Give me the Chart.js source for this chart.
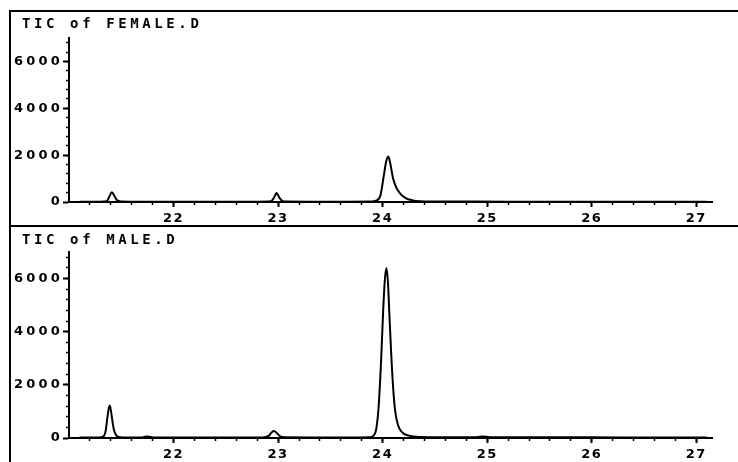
<!DOCTYPE html>
<html>
<head>
<meta charset="utf-8">
<script src="https://cdn.jsdelivr.net/npm/chart.js@4.4.0/dist/chart.umd.min.js"></script>
<style>
body { margin: 0; background: #fff; }
#wrap { position: relative; width: 738px; height: 462px; overflow: hidden; }
canvas { position: absolute; left: 0; }
#c1 { top: 0; }
#c2 { top: 226px; }
.frame { position: absolute; box-sizing: border-box; border: 0 solid #000; pointer-events: none; }
#f1 { left: 9px; top: 10px; width: 729px; height: 217px; border-left-width: 2px; border-top-width: 2px; border-bottom-width: 2px; }
#f2 { left: 9px; top: 225px; width: 729px; height: 240px; border-left-width: 2px; }
</style>
</head>
<body>
<div id="wrap">
  <canvas id="c1" width="738" height="226"></canvas>
  <canvas id="c2" width="738" height="236"></canvas>
  <div class="frame" id="f1"></div>
  <div class="frame" id="f2"></div>
</div>
<script>
// retention time (min) / total ion current
var femaleTime = [21.10, 21.30, 21.36, 21.385, 21.41, 21.435, 21.46, 21.50, 21.70, 22.00, 22.40, 22.80,
    22.93, 22.96, 22.985, 23.01, 23.04, 23.08, 23.30, 23.60, 23.90, 23.95, 23.98, 24.01, 24.035, 24.055,
    24.075, 24.10, 24.13, 24.17, 24.22, 24.28, 24.36, 24.50, 24.80, 25.20, 25.80, 26.40, 27.10];
var femaleTic = [15, 15, 30, 220, 420, 250, 70, 25, 15, 15, 15, 15,
    30, 180, 380, 200, 50, 20, 15, 15, 20, 80, 300, 1100, 1750, 1940,
    1600, 1000, 620, 350, 170, 80, 35, 25, 20, 15, 15, 15, 15];

var maleTime = [21.10, 21.25, 21.32, 21.35, 21.365, 21.38, 21.39, 21.40, 21.415, 21.43, 21.45, 21.48,
    21.55, 21.70, 21.74, 21.77, 21.80, 22.00, 22.40, 22.85, 22.91, 22.94, 22.96, 22.99, 23.02, 23.07,
    23.30, 23.70, 23.88, 23.93, 23.96, 23.985, 24.005, 24.02, 24.035, 24.05, 24.065, 24.08, 24.10,
    24.12, 24.15, 24.19, 24.25, 24.35, 24.60, 24.90, 24.96, 25.02, 25.30, 26.00, 26.60, 27.10];
var maleTic = [15, 15, 40, 250, 700, 1100, 1220, 1050, 650, 300, 110, 40,
    20, 20, 60, 50, 20, 20, 20, 20, 80, 220, 265, 180, 60, 25,
    20, 20, 30, 200, 1100, 2900, 4800, 5900, 6400, 5900, 4600, 3300, 1900,
    1000, 450, 200, 90, 40, 30, 30, 60, 30, 25, 25, 20, 20];

var xTickLabels = [22, 23, 24, 25, 26, 27];
var yTickLabels = [0, 2000, 4000, 6000];

var X_MIN = 21.0, X_MAX = 27.15, Y_MAX = 7000;

function points(times, values) {
    return times.map(function (t, i) { return { x: t, y: values[i] }; });
}

// Chart.js has no letter spacing option, so wrap the label drawing
function spaceLabels(scale, px) {
    if (scale._spaced) return;
    scale._spaced = true;
    var orig = scale.drawLabels;
    scale.drawLabels = function (area) {
        this.ctx.save();
        this.ctx.letterSpacing = px;
        orig.call(this, area);
        this.ctx.restore();
    };
}

var titlePlugin = {
    id: 'plotTitle',
    afterDraw: function (chart, args, opts) {
        var ctx = chart.ctx;
        ctx.save();
        ctx.font = 'bold 14px "DejaVu Sans Mono"';
        ctx.letterSpacing = '3.6px';
        ctx.fillStyle = '#000';
        ctx.textBaseline = 'middle';
        ctx.fillText(opts.text, 22, opts.y);
        ctx.restore();
    }
};

function plain(v) { return String(v); }

function makeChart(id, title, titleY, padTop, times, values) {
    return new Chart(document.getElementById(id), {
        type: 'line',
        data: {
            datasets: [{
                data: points(times, values),
                borderColor: '#000',
                borderWidth: 2,
                pointRadius: 0,
                fill: false,
                cubicInterpolationMode: 'monotone',
                xAxisID: 'x',
                yAxisID: 'y'
            }]
        },
        options: {
            responsive: false,
            animation: false,
            events: [],
            layout: { padding: { top: padTop, right: 26, left: 0, bottom: 0 } },
            plugins: {
                legend: { display: false },
                tooltip: { enabled: false },
                plotTitle: { text: title, y: titleY }
            },
            scales: {
                x: {
                    type: 'linear', position: 'bottom', weight: 1,
                    min: X_MIN, max: X_MAX,
                    afterBuildTicks: function (s) { s.ticks = xTickLabels.map(function (v) { return { value: v }; }); },
                    afterFit: function (s) { s.height = 24; spaceLabels(s, '1.5px'); },
                    grid: { drawOnChartArea: false, tickLength: 5, tickWidth: 2, tickColor: '#000' },
                    border: { display: true, color: '#000', width: 2 },
                    ticks: { color: '#000', padding: 4, maxRotation: 0, callback: plain,
                        font: { family: 'DejaVu Sans', weight: 'bold', size: 13 } }
                },
                xMinor: {
                    type: 'linear', position: 'bottom', weight: 0,
                    min: X_MIN, max: X_MAX,
                    afterBuildTicks: function (s) {
                        var t = [];
                        for (var v = 212; v <= 270; v += 2) t.push({ value: v / 10 });
                        s.ticks = t;
                    },
                    afterFit: function (s) { s.height = 0; },
                    grid: { drawOnChartArea: false, tickLength: 3, tickWidth: 1.5, tickColor: '#000' },
                    border: { display: false },
                    ticks: { display: false }
                },
                y: {
                    type: 'linear', position: 'left', weight: 1,
                    min: 0, max: Y_MAX,
                    afterBuildTicks: function (s) { s.ticks = yTickLabels.map(function (v) { return { value: v }; }); },
                    afterFit: function (s) { s.width = 69; spaceLabels(s, '3.2px'); },
                    grid: { drawOnChartArea: false, tickLength: 6, tickWidth: 2, tickColor: '#000' },
                    border: { display: true, color: '#000', width: 2 },
                    ticks: { color: '#000', padding: 0, callback: plain,
                        font: { family: 'DejaVu Sans', weight: 'bold', size: 13 } }
                },
                yMinor: {
                    type: 'linear', position: 'left', weight: 0,
                    min: 0, max: Y_MAX,
                    afterBuildTicks: function (s) {
                        var t = [];
                        for (var v = 400; v < Y_MAX; v += 400) t.push({ value: v });
                        s.ticks = t;
                    },
                    afterFit: function (s) { s.width = 0; },
                    grid: { drawOnChartArea: false, tickLength: 3, tickWidth: 1.5, tickColor: '#000' },
                    border: { display: false },
                    ticks: { display: false }
                }
            }
        },
        plugins: [titlePlugin]
    });
}

makeChart('c1', 'TIC of FEMALE.D', 24, 38, femaleTime, femaleTic);
makeChart('c2', 'TIC of MALE.D', 14, 26, maleTime, maleTic);
</script>
</body>
</html>
